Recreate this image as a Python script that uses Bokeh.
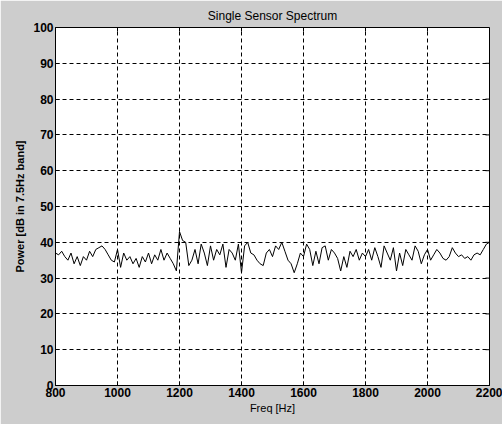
from bokeh.plotting import figure
from bokeh.models import Range1d, FixedTicker
from bokeh.embed import file_html
from bokeh.resources import INLINE

freq_start = 800
freq_step = 10
power_db = [
    37, 36.5, 37.5, 36, 35, 37, 34, 36, 33.5, 36,
    35, 37.5, 36, 38, 38.5, 39, 38, 36.5, 35, 34.5,
    38, 33, 37, 35, 36, 34, 35.5, 33, 36, 34.5,
    37, 34, 36.5, 35, 38, 35, 37, 35.5, 34, 32,
    43, 40.5, 40, 33.5, 35, 38, 34, 39.5, 37, 33.5,
    39, 35, 38, 36.5, 39.5, 33, 38, 37, 35, 39.5,
    31.5, 39, 40, 37, 36.5, 35, 34, 33.5, 37, 38,
    36, 39, 38, 40, 37.5, 35, 34, 31.5, 34, 37,
    36, 39.5, 38, 33.5, 37.5, 34, 38.5, 39, 35, 38,
    37, 35.5, 32, 36, 33, 37.5, 36, 38, 35, 37,
    36, 38, 35, 38.5, 36, 33, 39, 37, 35, 38.5,
    32, 37, 33.5, 38, 36.5, 35, 39, 37.5, 34, 36.5,
    38, 35, 36.5, 38, 37, 35.5, 35, 36, 38.5, 37,
    36, 36.5, 35.5, 36, 35, 36.5, 37, 36.5, 38, 39.5,
    40,
]
freq_hz = [freq_start + i * freq_step for i in range(len(power_db))]
x_ticks = [800, 1000, 1200, 1400, 1600, 1800, 2000, 2200]
y_ticks = [0, 10, 20, 30, 40, 50, 60, 70, 80, 90, 100]

FONT = "Liberation Sans"
BG = "#cdcdcd"

p = figure(width=502, height=424, output_backend="svg", toolbar_location=None,
           x_range=Range1d(800, 2200), y_range=Range1d(0, 100),
           min_border_left=55, min_border_right=13, min_border_top=27, min_border_bottom=39,
           title="Single Sensor Spectrum")
p.border_fill_color = BG
p.background_fill_color = "white"
p.outline_line_color = "black"
p.outline_line_width = 1

p.title.align = "center"
p.title.text_font = FONT
p.title.text_font_size = "12px"
p.title.text_font_style = "normal"
p.title.text_color = "black"
p.title.offset = 0
p.title.standoff = 9

p.line(freq_hz, power_db, line_color="black", line_width=1)

# inward tick marks on the top and right box edges (MATLAB-style box)
p.segment(x0=x_ticks, y0=[100] * len(x_ticks), x1=x_ticks, y1=[98.9] * len(x_ticks),
          line_color="black", line_width=1)
p.segment(x0=[2200] * len(y_ticks), y0=y_ticks, x1=[2187] * len(y_ticks), y1=y_ticks,
          line_color="black", line_width=1)

for ax in (p.xaxis[0], p.yaxis[0]):
    ax.major_label_text_font = FONT
    ax.major_label_text_font_size = "12px"
    ax.major_label_text_font_style = "bold"
    ax.major_label_text_color = "black"
    ax.axis_label_text_font = FONT
    ax.axis_label_text_font_size = "11px"
    ax.axis_label_text_font_style = "normal"
    ax.axis_label_text_color = "black"
    ax.axis_line_color = "black"
    ax.major_tick_in = 4
    ax.major_tick_out = 0
    ax.minor_tick_line_color = None
    ax.major_label_standoff = 2

p.xaxis[0].ticker = FixedTicker(ticks=x_ticks)
p.yaxis[0].ticker = FixedTicker(ticks=y_ticks)
p.xaxis[0].axis_label = "Freq [Hz]"
p.yaxis[0].axis_label = "Power [dB in 7.5Hz band]"
p.yaxis[0].axis_label_text_font_style = "bold"
p.xaxis[0].axis_label_standoff = 2
p.yaxis[0].axis_label_standoff = 4

p.xgrid.ticker = FixedTicker(ticks=x_ticks)
p.ygrid.ticker = FixedTicker(ticks=y_ticks)
for g in (p.xgrid, p.ygrid):
    g.grid_line_color = "black"
    g.grid_line_dash = "4 3"
    g.grid_line_width = 1

open("out.html", "w").write(file_html(p, INLINE))
